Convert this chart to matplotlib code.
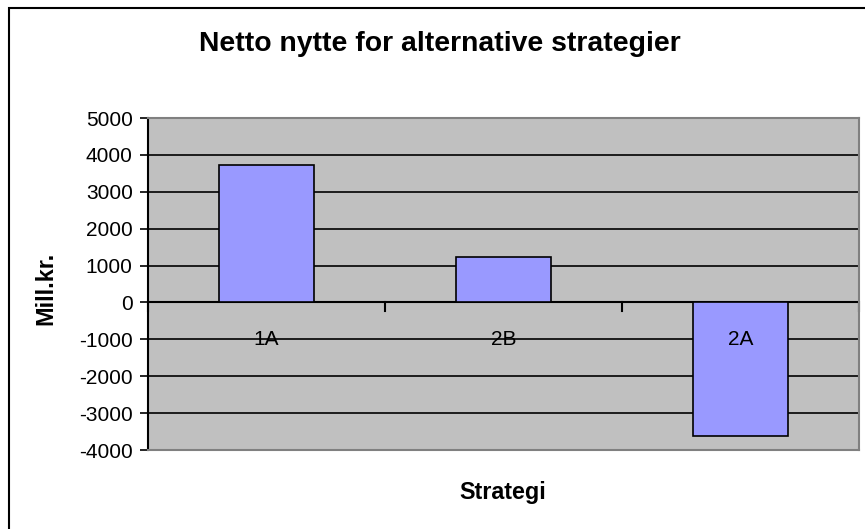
import matplotlib
matplotlib.use("Agg")
import matplotlib.pyplot as plt
from matplotlib.patches import Rectangle

plt.rcParams['font.family'] = ['Liberation Sans', 'DejaVu Sans']

categories = ["1A", "2B", "2A"]
values = [3730, 1240, -3620]
yticks = [5000, 4000, 3000, 2000, 1000, 0, -1000, -2000, -3000, -4000]

W, H = 865, 529
fig = plt.figure(figsize=(W / 100, H / 100), dpi=100)

# outer chart frame
fig.patches.append(Rectangle((9 / W, -0.1), 1.2, 1 - 8 / H + 0.1, transform=fig.transFigure,
                             fill=False, edgecolor='black', linewidth=1.5, zorder=0))

left, right, top, bottom = 148, 859, 118, 450
ax = fig.add_axes([left / W, 1 - bottom / H, (right - left) / W, (bottom - top) / H])
ax.set_facecolor('#C0C0C0')

x = list(range(len(categories)))
ax.bar(x, values, width=0.4, color='#9999FF', edgecolor='black', linewidth=1.2, zorder=3)

ax.set_xlim(-0.5, len(categories) - 0.5)
ax.set_ylim(-4000, 5000)
ax.set_yticks(yticks)
ax.set_yticklabels([str(v) for v in yticks], fontsize=15)
ax.yaxis.grid(True, color='black', linewidth=1.2, zorder=1)
ax.set_axisbelow(True)
ax.tick_params(axis='y', direction='out', length=6, width=1.2, pad=5)

# category axis at zero with tick marks between categories
ax.set_xticks([])
ax.axhline(0, color='black', linewidth=1.5, zorder=2)
for b in [i - 0.5 for i in range(len(categories) + 1)]:
    ax.plot([b, b], [0, -230], color='black', linewidth=1.5, zorder=2, clip_on=False)
for xi, lab in zip(x, categories):
    ax.text(xi, -1000, lab, ha='center', va='center', fontsize=15, zorder=4)

for side in ['top', 'right', 'bottom']:
    ax.spines[side].set_color('#808080')
    ax.spines[side].set_linewidth(1.5)
ax.spines['left'].set_color('black')
ax.spines['left'].set_linewidth(1.5)

fig.text(440 / W, 1 - 44 / H, "Netto nytte for alternative strategier", ha='center', va='center',
         fontsize=20.4, fontweight='bold')
fig.text(46 / W, 1 - 288 / H, "Mill.kr.", ha='center', va='center', rotation=90,
         fontsize=16.8, fontweight='bold')
fig.text(503 / W, 1 - 492 / H, "Strategi", ha='center', va='center',
         fontsize=16.8, fontweight='bold')

fig.savefig("out.png", dpi=100)
